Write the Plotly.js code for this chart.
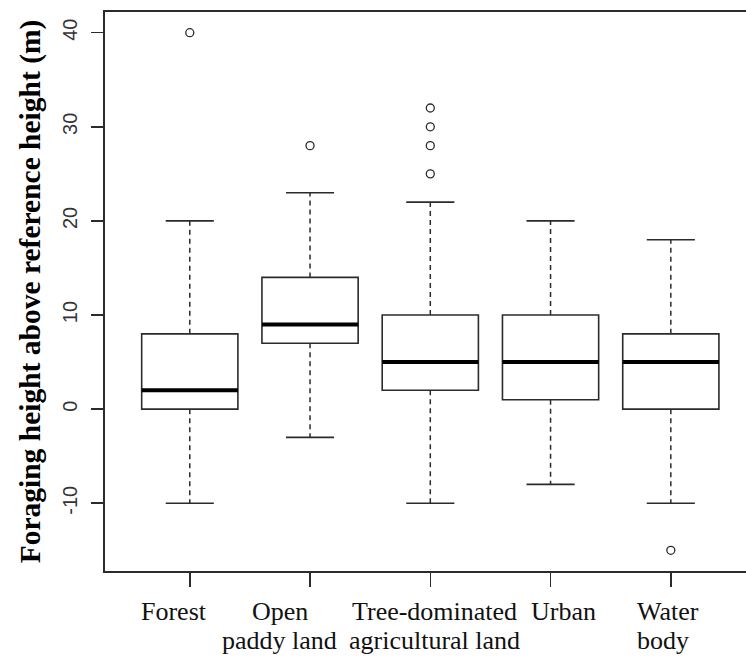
<!DOCTYPE html>
<html>
<head>
<meta charset="utf-8">
<script src="https://cdn.plot.ly/plotly-3.0.1.min.js"></script>
<style>
  html, body { margin: 0; padding: 0; background: #fff; overflow: hidden; }
  #chart { width: 770px; height: 658px; }
</style>
</head>
<body>
<div id="chart"></div>
<script>
// Foraging height above reference height (m) by land-use type
const categories = ['Forest', 'Open\npaddy land', 'Tree-dominated\nagricultural land', 'Urban', 'Water\nbody'];
const lowerWhisker = [-10, -3, -10, -8, -10];
const q1Values     = [0, 7, 2, 1, 0];
const medianValues = [2, 9, 5, 5, 5];
const q3Values     = [8, 14, 10, 10, 8];
const upperWhisker = [20, 23, 22, 20, 18];
const outlierValues = [[40], [28], [25, 28, 30, 32], [], [-15]];
const yTickValues = [-10, 0, 10, 20, 30, 40];
const yTickLabels = ['-10', '0', '10', '20', '30', '40'];

// group positions on the numeric x axis
const positions = categories.map((_, i) => i + 1);
const HALF_BOX = 0.4;   // box width 0.8
const HALF_CAP = 0.2;   // staple half of the box width

const ink = '#2b2b2b';

// boxes (quartiles only; whiskers are drawn dashed below)
const boxTrace = {
  type: 'box',
  x: positions,
  q1: q1Values,
  median: medianValues,
  q3: q3Values,
  lowerfence: q1Values,
  upperfence: q3Values,
  width: 0.8,
  whiskerwidth: 0,
  boxpoints: false,
  fillcolor: '#ffffff',
  line: { color: ink, width: 1.6 },
  hoverinfo: 'skip',
  showlegend: false
};

// dashed whiskers
const wx = [], wy = [];
positions.forEach((p, i) => {
  wx.push(p, p, null, p, p, null);
  wy.push(q3Values[i], upperWhisker[i], null, q1Values[i], lowerWhisker[i], null);
});
const whiskerTrace = {
  type: 'scatter', mode: 'lines', x: wx, y: wy,
  line: { color: ink, width: 1.5, dash: '5px,4px' },
  hoverinfo: 'skip', showlegend: false
};

// whisker staples
const cx = [], cy = [];
positions.forEach((p, i) => {
  cx.push(p - HALF_CAP, p + HALF_CAP, null, p - HALF_CAP, p + HALF_CAP, null);
  cy.push(upperWhisker[i], upperWhisker[i], null, lowerWhisker[i], lowerWhisker[i], null);
});
const capTrace = {
  type: 'scatter', mode: 'lines', x: cx, y: cy,
  line: { color: ink, width: 1.6 },
  hoverinfo: 'skip', showlegend: false
};

// heavy median bars
const mx = [], my = [];
positions.forEach((p, i) => {
  mx.push(p - HALF_BOX, p + HALF_BOX, null);
  my.push(medianValues[i], medianValues[i], null);
});
const medianTrace = {
  type: 'scatter', mode: 'lines', x: mx, y: my,
  line: { color: '#000000', width: 4 },
  hoverinfo: 'skip', showlegend: false
};

// outliers
const ox = [], oy = [];
outlierValues.forEach((vals, i) => vals.forEach(v => { ox.push(positions[i]); oy.push(v); }));
const outlierTrace = {
  type: 'scatter', mode: 'markers', x: ox, y: oy,
  marker: { symbol: 'circle-open', size: 8, color: ink, line: { width: 1.3, color: ink } },
  hoverinfo: 'skip', showlegend: false
};

// category labels: set line by line, a little off their ticks
const labelShift  = [-0.133, -0.25, 0.033, 0.105, -0.30];
const labelAnchor = ['center', 'center', 'center', 'center', 'left'];
const LINE_GAP = 29;
const labelFont = { family: 'Liberation Serif, Times New Roman, serif', size: 26, color: '#111' };
const annotations = [];
categories.forEach((name, i) => {
  name.split('\n').forEach((line, k) => {
    annotations.push({
      x: positions[i] + labelShift[i], y: 0, xref: 'x', yref: 'paper',
      yanchor: 'top', xanchor: labelAnchor[i], yshift: -24 - k * LINE_GAP,
      text: line, showarrow: false, font: labelFont
    });
  });
});

const layout = {
  width: 770, height: 658,
  margin: { l: 105, r: 15, t: 12, b: 87 },
  paper_bgcolor: '#fff', plot_bgcolor: '#fff',
  xaxis: {
    range: [0.295, 5.7],
    tickvals: positions,
    showticklabels: false,
    ticks: 'outside', ticklen: 14, tickwidth: 1.5, tickcolor: ink,
    showline: true, linecolor: ink, linewidth: 1.6, mirror: true,
    showgrid: false, zeroline: false
  },
  yaxis: {
    range: [-17.2, 42.2],
    tickvals: yTickValues,
    ticktext: yTickLabels,
    ticks: 'outside', ticklen: 12, tickwidth: 1.5, tickcolor: ink,
    tickangle: -90,
    ticklabelstandoff: 6,
    tickfont: { family: 'Liberation Sans, Arial, sans-serif', size: 20, color: '#333' },
    showline: true, linecolor: ink, linewidth: 1.6, mirror: true,
    showgrid: false, zeroline: false,
    title: {
      text: 'Foraging height above reference height (m)',
      font: { family: 'Liberation Serif, Times New Roman, serif', size: 29.5, color: '#000', weight: 'bold' },
      standoff: 10
    }
  },
  annotations: annotations
};

Plotly.newPlot('chart', [boxTrace, whiskerTrace, capTrace, medianTrace, outlierTrace], layout, { staticPlot: true, displayModeBar: false });
</script>
</body>
</html>
